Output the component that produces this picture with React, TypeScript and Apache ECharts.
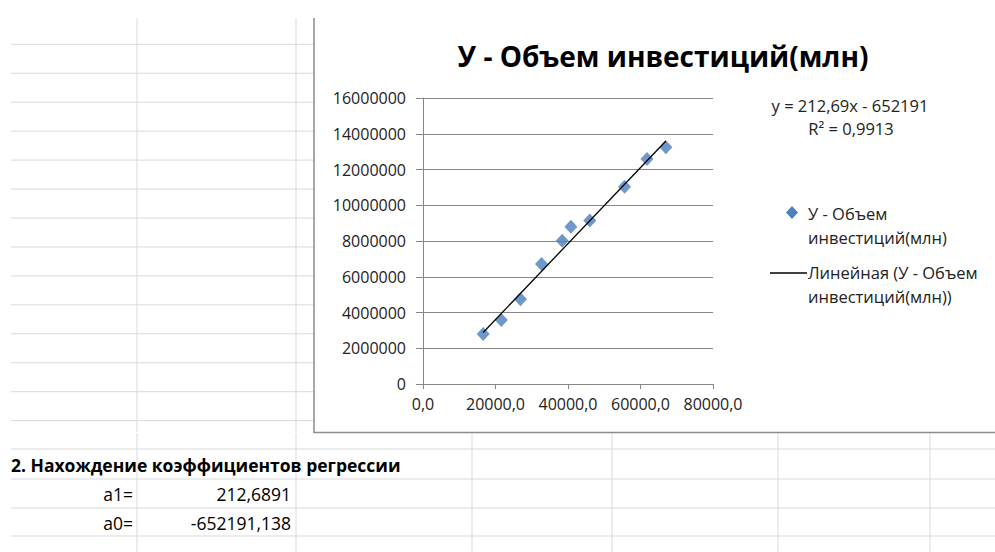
import React, { useEffect, useRef } from "react";
import * as echarts from "echarts";

const chartTitle = "У - Объем инвестиций(млн)";
const seriesName = "У - Объем инвестиций(млн)";
const trendName = "Линейная (У - Объем инвестиций(млн))";
const xValues = [16600, 21600, 26900, 32700, 38400, 40800, 46000, 55600, 61800, 67000];
const yValues = [2800000, 3580000, 4740000, 6710000, 8020000, 8800000, 9140000, 11040000, 12590000, 13240000];
const a1 = 212.6891;
const a0 = -652191.138;
const equationText = "y = 212,69x - 652191";
const r2Text = "R² = 0,9913";
const sectionTitle = "2. Нахождение коэффициентов регрессии";
const coefLabels = ["a1=", "a0="];
const coefValues = ["212,6891", "-652191,138"];

const FONT = "'Open Sans', 'Noto Sans', sans-serif";
const GRIDC = "#d9d9d9";

export default function App() {
  const ref = useRef<HTMLDivElement>(null);
  useEffect(() => {
    document.body.style.margin = "0";
    const chart = echarts.init(ref.current!, null, { renderer: "svg" });
    const xMin = Math.min(...xValues);
    const xMax = Math.max(...xValues);
    const trend = [
      [xMin, a1 * xMin + a0],
      [xMax, a1 * xMax + a0],
    ];

    const g: any[] = [];
    for (let k = 0; k < 14; k++) {
      const y = 44.3 + 28.95 * k;
      g.push({ type: "line", shape: { x1: 11, y1: y, x2: 314, y2: y }, style: { stroke: GRIDC, lineWidth: 1 }, z: 0 });
    }
    [137, 296].forEach((x) =>
      g.push({ type: "line", shape: { x1: x, y1: 18, x2: x, y2: 432 }, style: { stroke: GRIDC, lineWidth: 1 }, z: 0 })
    );
    [449, 479, 508, 536].forEach((y) =>
      g.push({ type: "line", shape: { x1: 11, y1: y, x2: 995, y2: y }, style: { stroke: GRIDC, lineWidth: 1 }, z: 0 })
    );
    [137, 296, 472, 612, 778, 930].forEach((x) =>
      g.push({ type: "line", shape: { x1: x, y1: 433, x2: x, y2: 552 }, style: { stroke: GRIDC, lineWidth: 1 }, z: 0 })
    );
    g.push({ type: "polyline", shape: { points: [[314, 18], [314, 432.5], [995, 432.5]] }, style: { stroke: "#8c8c8c", lineWidth: 1.5, fill: null }, z: 1 });
    g.push({ type: "text", x: 11, y: 465, style: { text: sectionTitle, font: `bold 17.5px ${FONT}`, fill: "#000", textVerticalAlign: "middle" } });
    coefLabels.forEach((t, i) => {
      g.push({ type: "text", x: 133, y: 494 + i * 28.5, style: { text: t, font: `17.5px ${FONT}`, fill: "#000", textAlign: "right", textVerticalAlign: "middle" } });
      g.push({ type: "text", x: 291, y: 494 + i * 28.5, style: { text: coefValues[i], font: `17.5px ${FONT}`, fill: "#000", textAlign: "right", textVerticalAlign: "middle" } });
    });
    g.push({ type: "text", x: 850, y: 105, style: { text: equationText, font: `16.5px ${FONT}`, fill: "#222", textAlign: "center", textVerticalAlign: "middle" } });
    g.push({ type: "text", x: 851, y: 128, style: { text: r2Text, font: `16.5px ${FONT}`, fill: "#222", textAlign: "center", textVerticalAlign: "middle" } });
    g.push({ type: "polygon", shape: { points: [[792, 206], [798, 212.5], [792, 219], [786, 212.5]] }, style: { fill: "#4F81BD" } });
    g.push({ type: "text", x: 808, y: 225, style: { text: "У - Объем\nинвестиций(млн)", font: `16.5px ${FONT}`, fill: "#222", textVerticalAlign: "middle", lineHeight: 24 } });
    g.push({ type: "line", shape: { x1: 770, y1: 273, x2: 807, y2: 273 }, style: { stroke: "#000", lineWidth: 1.5 } });
    g.push({ type: "text", x: 808, y: 284, style: { text: "Линейная (У - Объем\nинвестиций(млн))", font: `16.5px ${FONT}`, fill: "#222", textVerticalAlign: "middle", lineHeight: 24 } });

    chart.setOption({
      animation: false,
      backgroundColor: "#fff",
      title: {
        text: chartTitle,
        left: 658,
        top: 37,
        textAlign: "center",
        textStyle: { fontFamily: FONT, fontWeight: "bold", fontSize: 28, color: "#000" },
      },
      grid: { left: 423, right: 282, top: 98, bottom: 168 },
      xAxis: {
        type: "value",
        min: 0,
        max: 80000,
        interval: 20000,
        axisLine: { show: true, lineStyle: { color: "#868686", width: 1 } },
        axisTick: { show: true, length: 5, lineStyle: { color: "#868686" } },
        splitLine: { show: false },
        axisLabel: {
          margin: 12,
          fontFamily: FONT,
          fontSize: 16,
          color: "#222",
          formatter: (v: number) => v.toFixed(1).replace(".", ","),
        },
      },
      yAxis: {
        type: "value",
        min: 0,
        max: 16000000,
        interval: 2000000,
        axisLine: { show: true, lineStyle: { color: "#868686", width: 1 } },
        axisTick: { show: true, length: 7, lineStyle: { color: "#868686" } },
        splitLine: { show: true, lineStyle: { color: "#868686", width: 1 } },
        axisLabel: { margin: 17, fontFamily: FONT, fontSize: 16, color: "#222", formatter: (v: number) => String(v) },
      },
      series: [
        {
          name: seriesName,
          type: "scatter",
          symbol: "diamond",
          symbolSize: [13, 14],
          itemStyle: { color: "#4A7EBB" },
          data: xValues.map((x, i) => [x, yValues[i]]),
          z: 3,
        },
        {
          name: trendName,
          type: "line",
          data: trend,
          showSymbol: false,
          symbol: "none",
          lineStyle: { color: "#000", width: 1.3 },
          z: 4,
        },
      ],
      graphic: g,
    });
    return () => chart.dispose();
  }, []);
  return <div ref={ref} style={{ position: "absolute", left: 0, top: 0, width: 995, height: 552 }} />;
}
